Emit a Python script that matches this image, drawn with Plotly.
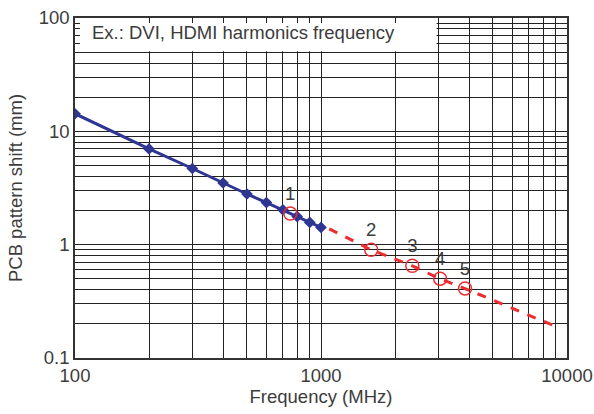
import math
import plotly.graph_objects as go

# data
freq_measured = [100, 200, 300, 400, 500, 600, 700, 800, 900, 1000]
shift_measured = [14.3, 7.0, 4.7, 3.5, 2.8, 2.35, 2.03, 1.77, 1.57, 1.42]

freq_extrap = [1080, 1600, 2350, 3050, 3850, 9000]
shift_extrap = [1.38, 0.9, 0.65, 0.5, 0.41, 0.19]

harm_freq = [750, 1600, 2350, 3050, 3850]
harm_shift = [1.88, 0.9, 0.65, 0.5, 0.41]
harm_labels = ["1", "2", "3", "4", "5"]

x_ticks = [100, 1000, 10000]
y_ticks = [0.1, 1, 10, 100]

font = "Liberation Sans"
fsize = 18.5
text_col = "#3c3c3c"
grid_col = "#222222"

x_minor = [m * 10 ** d for d in (2, 3) for m in range(2, 10)]
y_minor = [m * 10 ** d for d in (-1, 0, 1) for m in range(2, 10)]

fig = go.Figure()

fig.add_trace(go.Scatter(
    x=freq_extrap, y=shift_extrap, mode="lines",
    line=dict(color="#ee2b2f", width=3, dash="dash"),
    hoverinfo="skip",
))

fig.add_trace(go.Scatter(
    x=freq_measured, y=shift_measured, mode="lines+markers",
    line=dict(color="#2e3592", width=3),
    marker=dict(symbol="diamond", size=9, color="#2e3592"),
))

fig.add_trace(go.Scatter(
    x=harm_freq, y=harm_shift, mode="markers+text",
    text=harm_labels, textposition="top center",
    textfont=dict(family=font, size=fsize, color=text_col),
    marker=dict(symbol="circle-open", size=13, color="#ee2b2f", line=dict(width=1.5)),
))

# white label box covering the grid in the top-left corner (inset so edge ticks still show)
box_x1 = (math.log10(2950) - 2) / 2
box_y0 = (math.log10(51) + 1) / 3
fig.add_shape(type="rect", xref="paper", yref="paper",
              x0=5 / 492, x1=box_x1, y0=box_y0, y1=1 - 5 / 340,
              fillcolor="white", line=dict(width=0), layer="above")
fig.add_annotation(xref="paper", yref="paper", x=0.03, y=0.956,
                   xanchor="left", yanchor="middle", showarrow=False,
                   text="Ex.: DVI, HDMI harmonics frequency",
                   font=dict(family=font, size=fsize, color=text_col))

fig.update_xaxes(
    type="log", range=[2, 4],
    tickvals=x_ticks, ticktext=[str(v) for v in x_ticks],
    showgrid=True, gridcolor=grid_col, gridwidth=1,
    minor=dict(tickvals=x_minor, showgrid=True, gridcolor=grid_col, gridwidth=1,
               ticks="inside", ticklen=5, tickcolor=grid_col),
    showline=True, linecolor="#333", linewidth=1.5, mirror="ticks",
    ticks="", zeroline=False, automargin=False,
    title=dict(text="Frequency (MHz)", standoff=0,
               font=dict(family=font, size=fsize, color=text_col)),
    tickfont=dict(family=font, size=fsize, color=text_col),
)
fig.update_yaxes(
    type="log", range=[-1, 2],
    tickvals=y_ticks, ticktext=["0.1", "1", "10", "100"],
    showgrid=True, gridcolor=grid_col, gridwidth=1.3,
    minor=dict(tickvals=y_minor, showgrid=True, gridcolor=grid_col, gridwidth=1,
               ticks="inside", ticklen=5, tickcolor=grid_col),
    showline=True, linecolor="#333", linewidth=1.5, mirror="ticks",
    ticks="", zeroline=False, automargin=False,
    title=dict(text="PCB pattern shift (mm)", standoff=11,
               font=dict(family=font, size=fsize, color=text_col)),
    tickfont=dict(family=font, size=fsize, color=text_col),
)

fig.update_layout(
    width=594, height=414,
    margin=dict(l=75, r=27, t=18, b=56),
    paper_bgcolor="white", plot_bgcolor="white",
    showlegend=False,
)

fig.write_html("out.html", config={"displayModeBar": False},
               post_script="document.body.style.margin='0';")
